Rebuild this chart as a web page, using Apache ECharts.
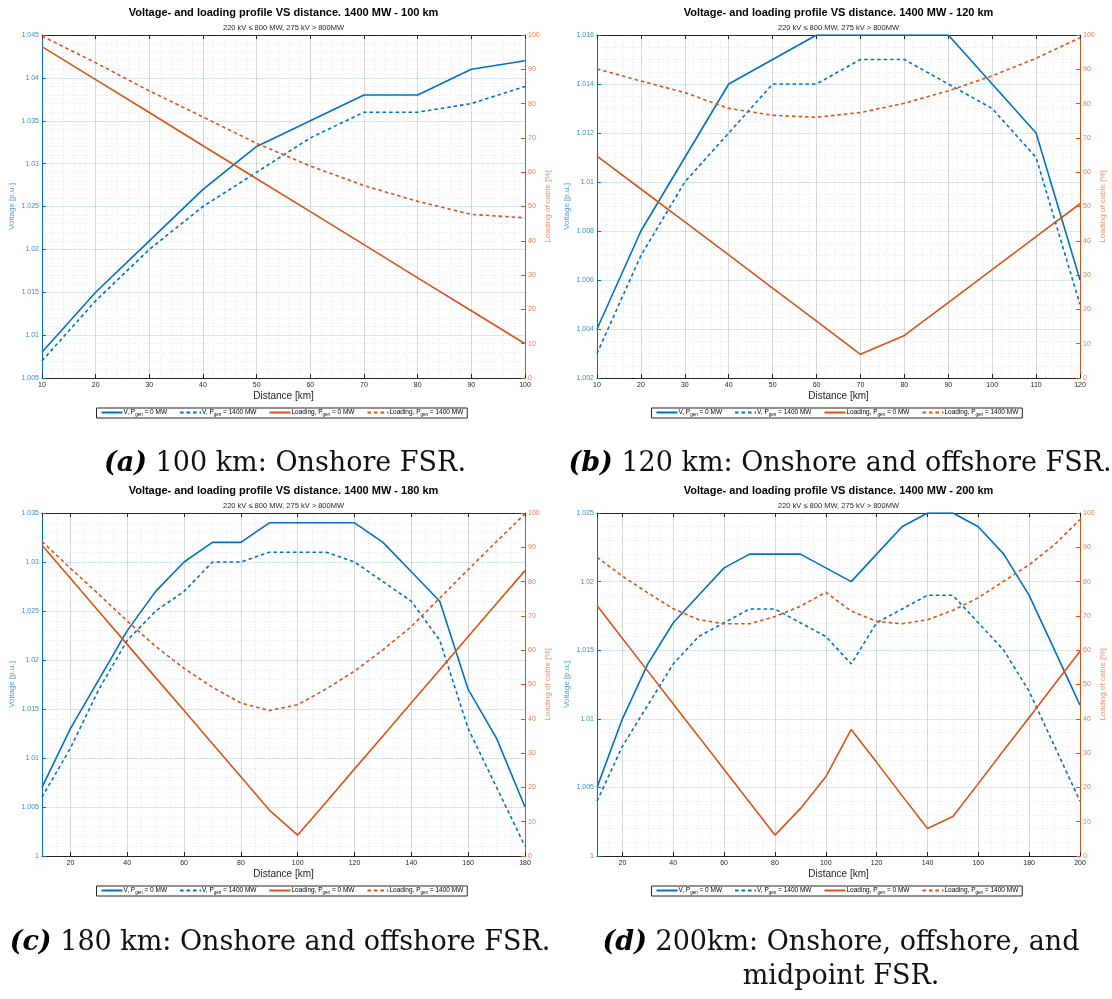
<!DOCTYPE html>
<html>
<head>
<meta charset="utf-8">
<script src="https://cdn.jsdelivr.net/npm/echarts@6/dist/echarts.min.js"></script>
<style>
  html, body { margin: 0; padding: 0; background: #ffffff; }
  #chart { width: 1112px; height: 999px; }
</style>
</head>
<body>
<div id="chart"></div>
<script>
// ---- Profiles along the cable: voltage [p.u.] and cable loading [%] ----
// 100 km cable
const dist100 = [10, 20, 30, 40, 50, 60, 70, 80, 90, 100];
const volt0_100 = [1.008, 1.015, 1.021, 1.027, 1.032, 1.035, 1.038, 1.038, 1.041, 1.042];
const volt1400_100 = [1.007, 1.014, 1.020, 1.025, 1.029, 1.033, 1.036, 1.036, 1.037, 1.039];
const load0_100 = [96.6, 87.0, 77.4, 67.7, 58.1, 48.5, 38.9, 29.2, 19.6, 10.0];
const load1400_100 = [99.7, 91.9, 83.7, 76.1, 68.4, 61.8, 56.1, 51.5, 47.7, 46.7];

// 120 km cable
const dist120 = [10, 20, 30, 40, 50, 60, 70, 80, 90, 100, 110, 120];
const volt0_120 = [1.004, 1.008, 1.011, 1.014, 1.015, 1.016, 1.016, 1.016, 1.016, 1.014, 1.012, 1.006];
const volt1400_120 = [1.003, 1.007, 1.010, 1.012, 1.014, 1.014, 1.015, 1.015, 1.014, 1.013, 1.011, 1.005];
const load0_120 = [64.7, 55.1, 45.5, 35.9, 26.2, 16.6, 6.9, 12.4, 22.0, 31.6, 41.2, 50.8];
const load1400_120 = [90.1, 86.6, 83.2, 78.6, 76.6, 76.0, 77.4, 80.1, 83.7, 88.1, 93.2, 99.2];

// 180 km cable
const dist180 = [10, 20, 30, 40, 50, 60, 70, 80, 90, 100, 110, 120, 130, 140, 150, 160, 170, 180];
const volt0_180 = [1.007, 1.013, 1.018, 1.023, 1.027, 1.030, 1.032, 1.032, 1.034, 1.034, 1.034, 1.034, 1.032, 1.029, 1.026, 1.017, 1.012, 1.005];
const volt1400_180 = [1.006, 1.011, 1.017, 1.022, 1.025, 1.027, 1.030, 1.030, 1.031, 1.031, 1.031, 1.030, 1.028, 1.026, 1.022, 1.013, 1.007, 1.001];
const load0_180 = [90.6, 81.0, 71.3, 61.7, 52.0, 42.4, 32.7, 23.1, 13.4, 6.1, 15.7, 25.4, 35.0, 44.7, 54.3, 64.0, 73.6, 83.2];
const load1400_180 = [91.7, 83.9, 76.3, 68.5, 61.1, 54.7, 49.2, 44.6, 42.4, 44.1, 48.7, 53.9, 60.1, 66.9, 75.2, 83.5, 91.7, 99.8];

// 200 km cable
const dist200 = [10, 20, 30, 40, 50, 60, 70, 80, 90, 100, 110, 120, 130, 140, 150, 160, 170, 180, 190, 200];
const volt0_200 = [1.005, 1.010, 1.014, 1.017, 1.019, 1.021, 1.022, 1.022, 1.022, 1.021, 1.020, 1.022, 1.024, 1.025, 1.025, 1.024, 1.022, 1.019, 1.015, 1.011];
const volt1400_200 = [1.004, 1.008, 1.011, 1.014, 1.016, 1.017, 1.018, 1.018, 1.017, 1.016, 1.014, 1.017, 1.018, 1.019, 1.019, 1.017, 1.015, 1.012, 1.008, 1.004];
const load0_200 = [73.0, 63.4, 53.9, 44.3, 34.8, 25.2, 15.7, 6.1, 13.8, 23.1, 36.9, 27.3, 17.6, 8.0, 11.5, 21.1, 30.8, 40.4, 50.1, 59.7];
const load1400_200 = [87.1, 81.6, 76.7, 72.1, 68.9, 67.7, 67.7, 69.8, 72.8, 76.9, 71.4, 68.4, 67.7, 68.9, 71.6, 75.3, 80.1, 84.9, 90.8, 98.1];

// Axis ranges: [min, max, step]
const xRange100 = [10, 100, 10];
const xRange120 = [10, 120, 10];
const xRange180 = [10, 180, 20];
const xRange200 = [10, 200, 20];
const vRange100 = [1.005, 1.045, 0.005];
const vRange120 = [1.002, 1.016, 0.002];
const vRange180 = [1.000, 1.035, 0.005];
const vRange200 = [1.000, 1.025, 0.005];
const loadRange = [0, 100, 10];

// Text
const lengthsKm = [100, 120, 180, 200];
const mainTitle = 'Voltage- and loading profile VS distance. 1400 MW - ';
const subTitle = '220 kV \u2264 800 MW, 275 kV > 800MW';
const seriesNames = ['V, Pgen = 0 MW', 'V, Pgen = 1400 MW', 'Loading, Pgen = 0 MW', 'Loading, Pgen = 1400 MW'];
const legendRich = {
  'V, Pgen = 0 MW': '{t|V, P}{s|gen}{t| = 0 MW}',
  'V, Pgen = 1400 MW': '{t|V, P}{s|gen}{t| = 1400 MW}',
  'Loading, Pgen = 0 MW': '{t|Loading, P}{s|gen}{t| = 0 MW}',
  'Loading, Pgen = 1400 MW': '{t|Loading, P}{s|gen}{t| = 1400 MW}'
};
const captionTags = ['(a)', '(b)', '(c)', '(d)'];
const captionLines = [
  ['100 km: Onshore FSR.'],
  ['120 km: Onshore and offshore FSR.'],
  ['180 km: Onshore and offshore FSR.'],
  ['200km: Onshore, offshore, and', 'midpoint FSR.']
];

// ---- Layout ----
const GRID_W = 483, GRID_H = 343;
const layout = [
  { left: 42, top: 35, capX: 285, capY: 450 },
  { left: 597, top: 35, capX: 840, capY: 450 },
  { left: 42, top: 513, capX: 280, capY: 929 },
  { left: 597, top: 513, capX: 841, capY: 929 }
];

const BLUE = '#0072BD', ORANGE = '#D95319';
const SANS = 'Liberation Sans, Arial, Helvetica, sans-serif';
const SERIF = 'DejaVu Serif, serif';
const DOTS = [3.5, 3];

const panels = [
  { d: dist100, v0: volt0_100, v1: volt1400_100, l0: load0_100, l1: load1400_100, xr: xRange100, vr: vRange100 },
  { d: dist120, v0: volt0_120, v1: volt1400_120, l0: load0_120, l1: load1400_120, xr: xRange120, vr: vRange120 },
  { d: dist180, v0: volt0_180, v1: volt1400_180, l0: load0_180, l1: load1400_180, xr: xRange180, vr: vRange180 },
  { d: dist200, v0: volt0_200, v1: volt1400_200, l0: load0_200, l1: load1400_200, xr: xRange200, vr: vRange200 }
];

const pairs = (xs, ys) => xs.map((x, k) => [x, ys[k]]);
const trimNum = v => String(parseFloat(Number(v).toFixed(4)));

const option = {
  animation: false,
  backgroundColor: '#ffffff',
  title: [], legend: [], grid: [], xAxis: [], yAxis: [], series: []
};

panels.forEach((p, i) => {
  const L = layout[i];
  const cx = L.left + GRID_W / 2;

  option.grid.push({ left: L.left, top: L.top, width: GRID_W, height: GRID_H });

  // distance axis: interval set directly when min is a multiple of the step,
  // otherwise the step is forced through min/maxInterval
  const xr = p.xr;
  const exact = xr[0] % xr[2] === 0;
  const xStep = exact ? { interval: xr[2] } : { minInterval: xr[2], maxInterval: xr[2], splitNumber: Math.round((xr[1] - xr[0]) / xr[2]) };
  const xMinor = exact ? 5 : 4;

  option.xAxis.push(Object.assign({
    gridIndex: i, type: 'value', min: xr[0], max: xr[1],
    name: 'Distance [km]', nameLocation: 'middle', nameGap: 13,
    nameTextStyle: { fontFamily: SANS, fontSize: 10, color: '#262626' },
    axisLine: { onZero: false, lineStyle: { color: '#262626', width: 1 } },
    axisTick: { inside: true, length: 4, lineStyle: { color: '#262626' } },
    minorTick: { show: false, splitNumber: xMinor },
    axisLabel: { fontFamily: SANS, fontSize: 7, color: '#262626', margin: 4, showMinLabel: exact },
    splitLine: { show: true, lineStyle: { color: 'rgba(0,0,0,0.15)', width: 1 } },
    minorSplitLine: { show: true, lineStyle: { color: 'rgba(0,0,0,0.11)', width: 0.8, type: [1, 2] } }
  }, xStep));

  option.xAxis.push(Object.assign({
    gridIndex: i, type: 'value', position: 'top', min: xr[0], max: xr[1],
    axisLine: { onZero: false, lineStyle: { color: '#262626', width: 1 } },
    axisTick: { inside: true, length: 4, lineStyle: { color: '#262626' } },
    axisLabel: { show: false },
    splitLine: { show: false }
  }, xStep));

  const vr = p.vr;
  option.yAxis.push({
    gridIndex: i, type: 'value', position: 'left', min: vr[0], max: vr[1], interval: vr[2],
    name: 'Voltage [p.u.]', nameLocation: 'middle', nameGap: 26, nameRotate: 90,
    nameTextStyle: { fontFamily: SANS, fontSize: 8, color: '#4a9ddc' },
    axisLine: { show: true, onZero: false, lineStyle: { color: BLUE, width: 1 } },
    axisTick: { show: true, inside: true, length: 4, lineStyle: { color: BLUE } },
    axisLabel: { fontFamily: SANS, fontSize: 7, color: '#3a90d2', margin: 3, formatter: trimNum },
    splitLine: { show: true, lineStyle: { color: 'rgba(0,114,189,0.17)', width: 1 } },
    minorTick: { show: false, splitNumber: vr[2] === 0.002 ? 4 : 5 },
    minorSplitLine: { show: true, lineStyle: { color: 'rgba(0,0,0,0.11)', width: 0.8, type: [1, 2] } }
  });
  option.yAxis.push({
    gridIndex: i, type: 'value', position: 'right', min: loadRange[0], max: loadRange[1], interval: loadRange[2],
    name: 'Loading of cable [%]', nameLocation: 'middle', nameGap: 19, nameRotate: 90,
    nameTextStyle: { fontFamily: SANS, fontSize: 8, color: '#ee8f68' },
    axisLine: { show: true, onZero: false, lineStyle: { color: ORANGE, width: 1 } },
    axisTick: { show: true, inside: true, length: 4, lineStyle: { color: ORANGE } },
    axisLabel: { fontFamily: SANS, fontSize: 7, color: '#e87a50', margin: 3 },
    splitLine: { show: false }
  });

  const xi = 2 * i, yl = 2 * i, yr = 2 * i + 1;
  const mk = (name, data, yIdx, color, dotted) => ({
    name, type: 'line', xAxisIndex: xi, yAxisIndex: yIdx, data,
    symbol: 'none', showSymbol: false, silent: true,
    lineStyle: { color, width: 1.6, type: dotted ? DOTS : 'solid' },
    itemStyle: { color }
  });
  option.series.push(
    mk(seriesNames[0], pairs(p.d, p.v0), yl, BLUE, false),
    mk(seriesNames[1], pairs(p.d, p.v1), yl, BLUE, true),
    mk(seriesNames[2], pairs(p.d, p.l0), yr, ORANGE, false),
    mk(seriesNames[3], pairs(p.d, p.l1), yr, ORANGE, true)
  );

  // titles
  option.title.push({
    text: mainTitle + lengthsKm[i] + ' km', left: cx, top: L.top - 28, textAlign: 'center', padding: 0,
    textStyle: { fontFamily: SANS, fontSize: 11, fontWeight: 'bold', color: '#000' }
  });
  option.title.push({
    text: subTitle, left: cx, top: L.top - 11, textAlign: 'center', padding: 0,
    textStyle: { fontFamily: SANS, fontSize: 7.5, fontWeight: 'normal', color: '#262626' }
  });

  // legend under the distance axis (line samples only, no marker)
  option.legend.push({
    data: seriesNames, orient: 'horizontal', left: cx - 187, top: L.top + GRID_H + 30,
    itemWidth: 21, itemHeight: 8, itemGap: 12, padding: [1, 4, 1, 4],
    borderColor: '#262626', borderWidth: 1, backgroundColor: '#fff',
    selectedMode: false,
    itemStyle: { opacity: 0, color: 'transparent', borderWidth: 0 },
    formatter: n => legendRich[n],
    textStyle: {
      fontFamily: SANS, fontSize: 6.5, color: '#000', padding: [0, 0, 0, -4],
      rich: {
        t: { fontFamily: SANS, fontSize: 6.5, color: '#000' },
        s: { fontFamily: SANS, fontSize: 4.5, color: '#000', padding: [4, 0, 0, 0] }
      }
    }
  });

  // sub-figure caption
  captionLines[i].forEach((line, k) => {
    const txt = (k === 0 ? '{b|' + captionTags[i] + '} ' : '') + '{n|' + line + '}';
    option.title.push({
      text: txt, left: L.capX, top: L.capY + k * 34, textAlign: 'center', padding: 0,
      textStyle: {
        fontFamily: SERIF, fontSize: 27, fontWeight: 'normal', color: '#000',
        rich: {
          b: { fontFamily: SERIF, fontSize: 27, fontWeight: 'bold', fontStyle: 'italic', color: '#000' },
          n: { fontFamily: SERIF, fontSize: 27, fontWeight: 'normal', color: '#111' }
        }
      }
    });
  });
});

const chart = echarts.init(document.getElementById('chart'), null, { renderer: 'canvas' });
chart.setOption(option);
</script>
</body>
</html>
